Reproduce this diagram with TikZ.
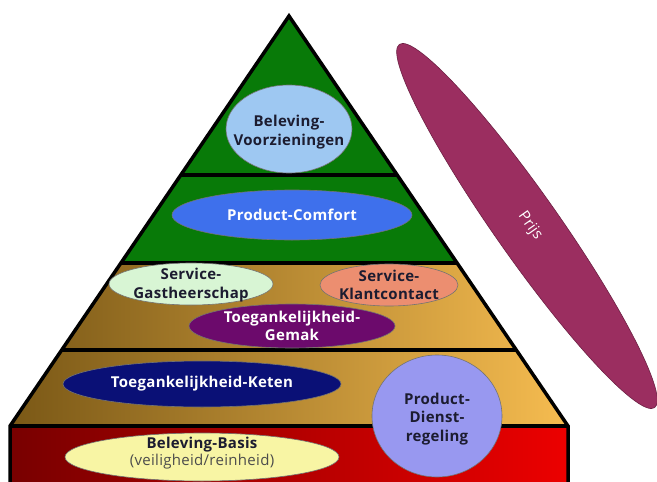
\documentclass[tikz,border=0pt]{standalone}
\usepackage{fontspec}
\setmainfont{Open Sans}[LetterSpace=2]
\definecolor{topgreen}{RGB}{8,122,8}
\definecolor{ochreDark}{RGB}{122,88,22}
\definecolor{ochreLight}{RGB}{246,188,80}
\definecolor{redDark}{RGB}{120,0,0}
\definecolor{redLight}{RGB}{236,0,0}
\definecolor{skyfill}{RGB}{158,200,242}
\definecolor{comfortfill}{RGB}{62,112,236}
\definecolor{mintfill}{RGB}{216,245,212}
\definecolor{salmonfill}{RGB}{236,142,112}
\definecolor{plumfill}{RGB}{108,10,108}
\definecolor{navyfill}{RGB}{10,16,118}
\definecolor{creamfill}{RGB}{248,245,164}
\definecolor{lavenderfill}{RGB}{152,152,240}
\definecolor{prijsfill}{RGB}{155,46,96}
\definecolor{darktext}{RGB}{28,28,48}
\begin{document}
\begin{tikzpicture}[x=1pt,y=-1pt,
  edge/.style={line width=3.5pt, line join=miter},
  blob/.style={draw=black!55, line width=0.6pt},
  lbl/.style={font=\bfseries\fontsize{15}{18.5}\selectfont, align=center, inner sep=0pt},
  darklbl/.style={lbl, text=darktext},
  lightlbl/.style={lbl, text=white}]
\useasboundingbox (0,0) rectangle (657,482);
\clip (0,0) rectangle (657,482);

% corner points of the pyramid and its layer lines
\coordinate (apex) at (289,16);
\coordinate (bl) at (10,426);
\coordinate (br) at (568,426);
\coordinate (l1) at (180.8,175);  \coordinate (r1) at (397.2,175);
\coordinate (l2) at (120.9,263);  \coordinate (r2) at (457.1,263);
\coordinate (l3) at (61.7,350);   \coordinate (r3) at (516.3,350);
\coordinate (bbl) at (10,492);
\coordinate (bbr) at (568,492);

% green top
\fill[topgreen] (apex) -- (r2) -- (l2) -- cycle;
% ochre middle layers
\begin{scope}
  \clip (l2) -- (r2) -- (br) -- (bl) -- cycle;
  \shade[left color=ochreDark, right color=ochreLight] (10,263) rectangle (568,426);
\end{scope}
% red base
\shade[left color=redDark, right color=redLight] (bl) rectangle (bbr);

% outlines
\draw[edge] (bbl) -- (bl) -- (apex) -- (br) -- (bbr);
\draw[edge] (bl) -- (br);
\draw[edge] (l1) -- (r1);
\draw[edge] (l2) -- (r2);
\draw[edge] (l3) -- (r3);

% price band
\path[fill=prijsfill, draw=prijsfill!70!black, line width=0.6pt,
      rotate around={-54.9:(527,226)}] (527,226) ellipse [x radius=222pt, y radius=32pt];
\node[font=\fontsize{15}{18}\selectfont, text=white, rotate=-54.9, inner sep=0pt] (prijs) at (530,226) {Prijs};

% top layer
\path[blob, fill=skyfill] (289,129) ellipse [x radius=63pt, y radius=44pt];
\node[darklbl] (voorz) at (289,132) {Beleving-\\Voorzieningen};

% second layer
\path[blob, fill=comfortfill] (292,215) ellipse [x radius=120pt, y radius=25pt];
\node[lightlbl] (comfort) at (292,215) {Product-Comfort};

% third layer
\path[blob, fill=mintfill] (191,284) ellipse [x radius=82pt, y radius=21pt];
\node[darklbl] (gast) at (191,285) {Service-\\Gastheerschap};
\path[blob, fill=salmonfill] (389,285) ellipse [x radius=69pt, y radius=21pt];
\node[darklbl] (klant) at (389,285) {Service-\\Klantcontact};
\path[blob, fill=plumfill] (292,326) ellipse [x radius=103pt, y radius=22pt];
\node[lightlbl] (gemak) at (292,326) {Toegankelijkheid-\\Gemak};

% fourth layer
\path[blob, fill=navyfill] (202,384) ellipse [x radius=139pt, y radius=23pt];
\node[lightlbl] (keten) at (202,384) {Toegankelijkheid-Keten};

% base layer
\path[blob, fill=creamfill] (202,457) ellipse [x radius=137pt, y radius=24pt];
\node[darklbl] (basis) at (202,453) {Beleving-Basis\\[-1pt]{\mdseries\color{black!70}(veiligheid/reinheid)}};

% spanning the two lower layers
\path[blob, fill=lavenderfill] (437,416) ellipse [x radius=65pt, y radius=61pt];
\node[darklbl] (dienst) at (437,419) {Product-\\Dienst-\\regeling};
\end{tikzpicture}
\end{document}
